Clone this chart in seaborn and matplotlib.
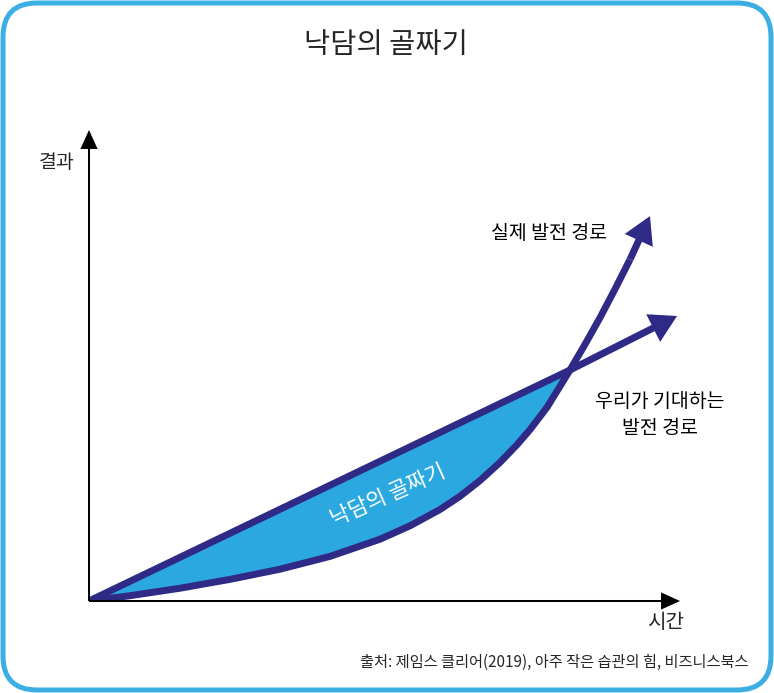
import pandas as pd
import seaborn as sns
import matplotlib.pyplot as plt
from matplotlib.patches import FancyBboxPatch

# path data (time, result); last point of each path is the arrow tip
actual_time = [0, 6.90, 15.32, 23.74, 32.15, 40.57, 48.99, 54.04, 59.09, 62.46, 65.82,
               69.19, 72.05, 74.24, 77.10, 80.98, 83.50, 86.03, 88.55, 91.08, 94.44]
actual_result = [0, 0.89, 2.15, 3.64, 5.35, 7.51, 10.40, 12.66, 15.40, 17.63, 20.27,
                 23.33, 26.30, 28.84, 32.59, 38.89, 43.20, 47.70, 52.50, 57.50, 64.80]
expected_time = [0, 80.98, 99.0]
expected_result = [0, 38.89, 47.98]
crossing_time = 80.98

title = "낙담의 골짜기"
label_actual = "실제 발전 경로"
label_expected = "우리가 기대하는\n발전 경로"
label_valley = "낙담의 골짜기"
label_y = "결과"
label_x = "시간"
source = "출처: 제임스 클리어(2019), 아주 작은 습관의 힘, 비즈니스북스"

line_color = "#2E2A86"
fill_color = "#2CA8E0"
border_color = "#3BAEE3"

sns.set_theme(style="white")
plt.rcParams["font.family"] = ["Noto Sans CJK KR", "DejaVu Sans"]
plt.rcParams["font.weight"] = "medium"

W, H = 774, 693
fig = plt.figure(figsize=(W / 100, H / 100), dpi=100)

# rounded frame
bg = fig.add_axes([0, 0, 1, 1])
bg.set_xlim(0, W)
bg.set_ylim(0, H)
bg.axis("off")
bg.add_patch(FancyBboxPatch((3, 3), 768, 687, boxstyle="round,pad=0,rounding_size=34",
                            fill=False, ec=border_color, lw=3.6))

ax = fig.add_axes([89 / W, 92 / H, 594 / W, 471 / H])
ax.set_xlim(0, 100)
ax.set_ylim(0, 471 / 5.94)
ax.axis("off")

actual = pd.DataFrame({"time": actual_time, "result": actual_result})
expected = pd.DataFrame({"time": expected_time, "result": expected_result})

# valley between the two paths
up = expected[expected["time"] <= crossing_time]
low = actual[actual["time"] <= crossing_time].iloc[::-1]
poly = pd.concat([up, low])
ax.fill(poly["time"], poly["result"], color=fill_color, lw=0, zorder=1)

# paths (without the arrow tip segment)
for df in (actual, expected):
    sns.lineplot(data=df.iloc[:-1], x="time", y="result", ax=ax, color=line_color,
                 lw=5, sort=False, solid_joinstyle="round", solid_capstyle="butt",
                 zorder=3)
    x0, y0 = df.iloc[-2]
    x1, y1 = df.iloc[-1]
    ax.arrow(x0, y0, x1 - x0, y1 - y0, width=1.18, head_width=5.2, head_length=4.5,
             length_includes_head=True, color=line_color, lw=0, zorder=3, clip_on=False)

# axes with arrows
ax.arrow(0, 0, 99.5, 0, width=0.34, head_width=2.9, head_length=3.2,
         length_includes_head=True, color="black", lw=0, clip_on=False, zorder=4)
ax.arrow(0, 0, 0, 79.3, width=0.34, head_width=2.9, head_length=3.2,
         length_includes_head=True, color="black", lw=0, clip_on=False, zorder=4)

ax.text(77.4, 61.8, label_actual, fontsize=14, ha="center", va="center", color="black")
ax.text(96.1, 31.3, label_expected, fontsize=14, ha="center", va="center",
        linespacing=1.35, color="black", clip_on=False)
ax.text(50.3, 17.8, label_valley, fontsize=15.5, ha="center", va="center", rotation=24,
        color="white", rotation_mode="anchor", zorder=5)
ax.text(-5.4, 73.9, label_y, fontsize=14, ha="center", va="center", clip_on=False)
ax.text(97.0, -3.7, label_x, fontsize=14.5, ha="center", va="center", clip_on=False)

fig.text(386 / W, 1 - 45 / H, title, fontsize=20.5, ha="center", va="center")
fig.text(748 / W, 1 - 662 / H, source, fontsize=11, ha="right", va="center")

fig.savefig("out.png", dpi=100)
